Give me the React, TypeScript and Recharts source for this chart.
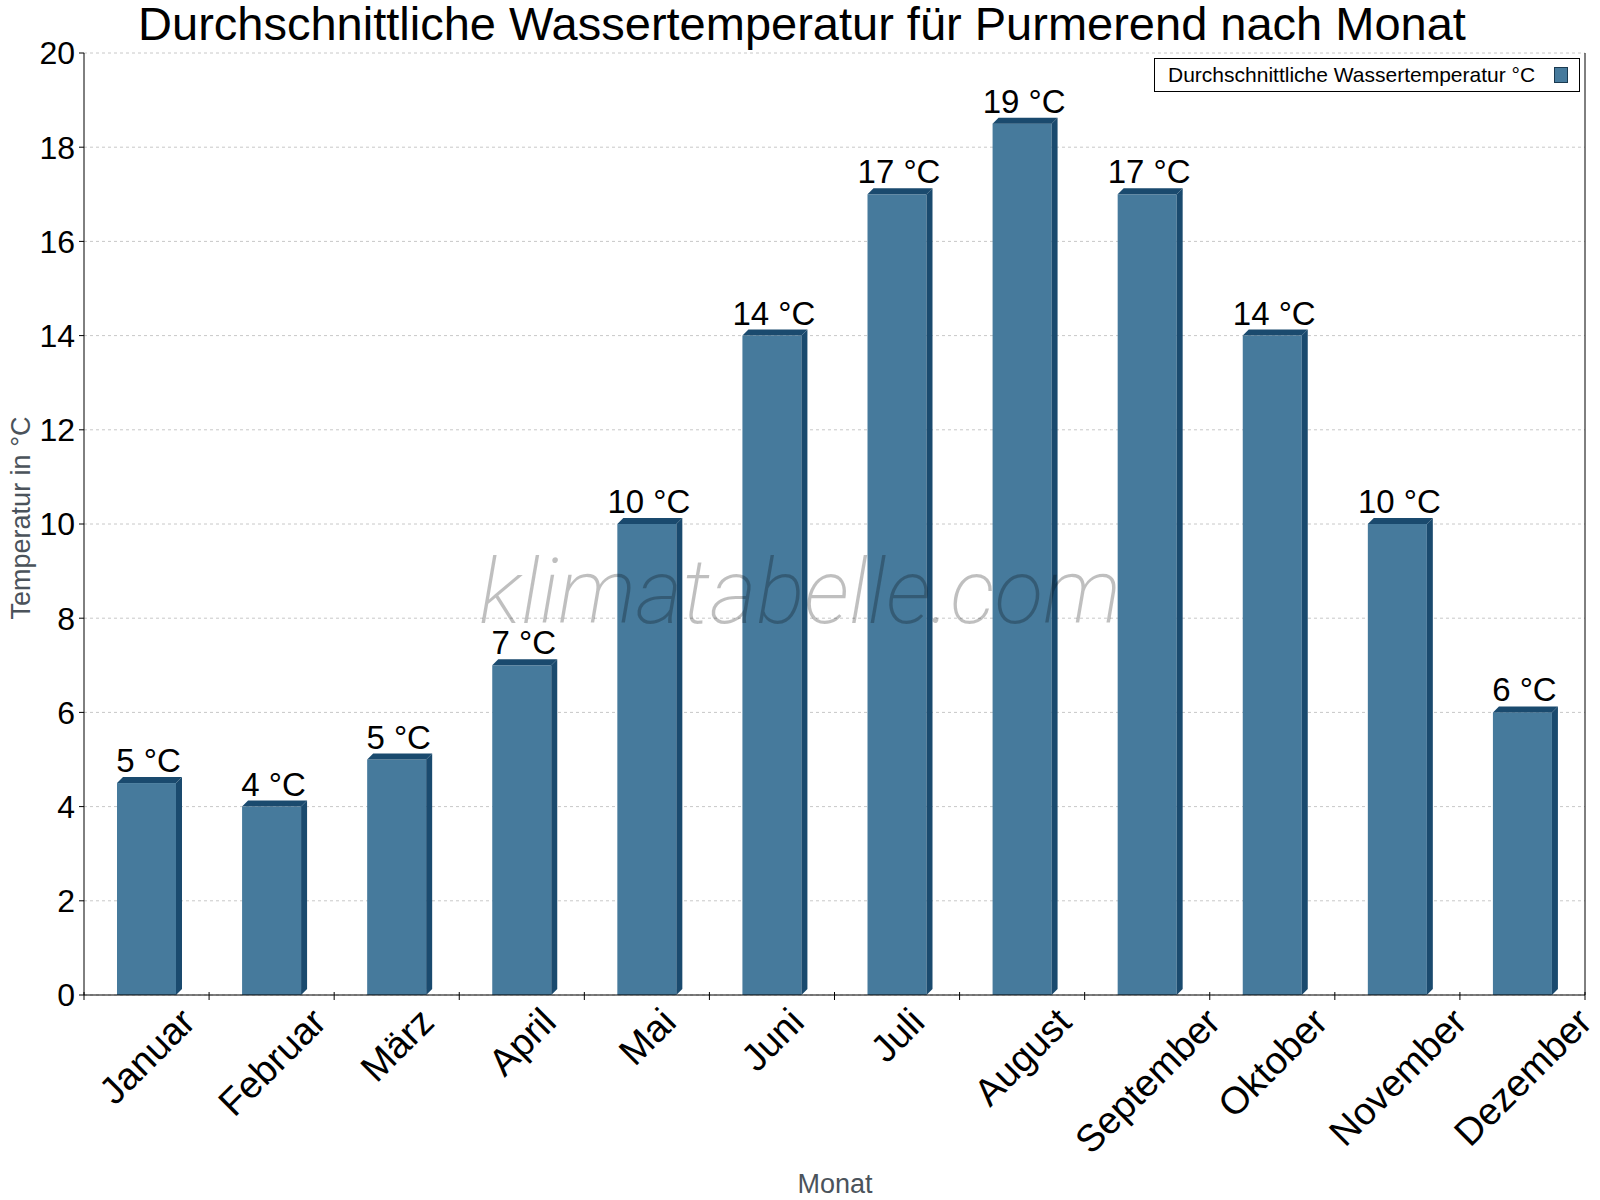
import React from "react";
import {
  BarChart,
  Bar,
  XAxis,
  YAxis,
  CartesianGrid,
  LabelList,
} from "recharts";

const months = [
  "Januar",
  "Februar",
  "März",
  "April",
  "Mai",
  "Juni",
  "Juli",
  "August",
  "September",
  "Oktober",
  "November",
  "Dezember",
];
const waterTemp = [4.5, 4, 5, 7, 10, 14, 17, 18.5, 17, 14, 10, 6];
const yTicks = [0, 2, 4, 6, 8, 10, 12, 14, 16, 18, 20];
const seriesName = "Durchschnittliche Wassertemperatur °C";

const data = months.map((month, i) => ({ month, temp: waterTemp[i] }));

const FONT = "'Liberation Sans', Arial, Helvetica, sans-serif";
const FRONT = "#467a9c";
const SIDE = "#1a4a6e";
const W = 1600;
const H = 1200;
const PLOT_LEFT = 84;
const PLOT_RIGHT = 1585;
const PLOT_W = PLOT_RIGHT - PLOT_LEFT;
const X_FS = 38;

let ctx: CanvasRenderingContext2D | null = null;
function textWidth(s: string, size: number) {
  if (!ctx) ctx = document.createElement("canvas").getContext("2d");
  if (!ctx) return s.length * size * 0.55;
  ctx.font = `${size}px 'Liberation Sans', Arial, sans-serif`;
  return ctx.measureText(s).width;
}

// bar with a little 3d top and right side
const Bar3D = (props: any) => {
  const { x, y, width, height } = props;
  if (height <= 0) return null;
  const d = 6;
  return (
    <g>
      <rect x={x} y={y} width={width} height={height} fill={FRONT} />
      <polygon
        points={`${x},${y} ${x + d},${y - d} ${x + width + d},${y - d} ${x + width},${y}`}
        fill={SIDE}
      />
      <polygon
        points={`${x + width},${y} ${x + width + d},${y - d} ${x + width + d},${y + height - d} ${x + width},${y + height}`}
        fill={SIDE}
      />
    </g>
  );
};

const MonthTick = (props: any) => {
  const { x, y, payload, index } = props;
  const bw = PLOT_W / months.length;
  const L = textWidth(payload.value, X_FS);
  const mx = x + 0.253 * X_FS;
  const my = y + 10 + 0.707 * (L / 2 + 0.716 * X_FS);
  return (
    <g>
      <line x1={x - bw / 2} x2={x - bw / 2} y1={y - 3} y2={y + 5} stroke="#000" />
      {index === months.length - 1 && (
        <line x1={x + bw / 2} x2={x + bw / 2} y1={y - 3} y2={y + 5} stroke="#000" />
      )}
      <text
        x={mx}
        y={my}
        textAnchor="middle"
        transform={`rotate(-45, ${mx}, ${my})`}
        fontSize={X_FS}
        fontFamily={FONT}
        fill="#000"
      >
        {payload.value}
      </text>
    </g>
  );
};

const ValueLabel = (props: any) => {
  const { x, y, width, value } = props;
  return (
    <text
      x={x + width / 2 + 2}
      y={y - 11}
      textAnchor="middle"
      fontSize={33}
      fontFamily={FONT}
      fill="#000"
    >
      {`${Math.round(value)} °C`}
    </text>
  );
};

const LegendBox = () => (
  <div
    style={{
      position: "absolute",
      left: 1154,
      top: 58,
      boxSizing: "border-box",
      width: 426,
      height: 34,
      border: "1px solid #000",
      background: "#fff",
      display: "flex",
      alignItems: "center",
      paddingLeft: 13,
      fontFamily: FONT,
      fontSize: 21,
      color: "#000",
    }}
  >
    <span style={{ flex: 1 }}>{seriesName}</span>
    <span
      style={{
        boxSizing: "border-box",
        width: 14,
        height: 16,
        background: FRONT,
        border: "1px solid #1a3a50",
        marginRight: 11,
      }}
    />
  </div>
);

export default function App() {
  return (
    <div style={{ position: "absolute", left: 0, top: 0, width: W, height: H, background: "#fff" }}>
      <BarChart
        width={W}
        height={H}
        data={data}
        margin={{ top: 53, right: 14, left: 0, bottom: 0 }}
      >
        <CartesianGrid
          yAxisId="left"
          vertical={false}
          stroke="#c8c8c8"
          strokeDasharray="3 3"
        />
        <XAxis
          dataKey="month"
          height={205}
          interval={0}
          tickLine={false}
          tickSize={0}
          tickMargin={0}
          axisLine={{ stroke: "#000" }}
          tick={<MonthTick />}
        />
        <YAxis
          yAxisId="left"
          width={84}
          domain={[0, 20]}
          ticks={yTicks}
          interval={0}
          tickSize={5}
          tickMargin={4}
          axisLine={{ stroke: "#000" }}
          tickLine={{ stroke: "#000" }}
          tick={{ fontSize: 32, fill: "#000", fontFamily: FONT }}
        />
        <YAxis
          yAxisId="right"
          orientation="right"
          width={1}
          domain={[0, 20]}
          tick={false}
          tickLine={false}
          axisLine={{ stroke: "#000" }}
        />
        <Bar
          yAxisId="left"
          dataKey="temp"
          name={seriesName}
          barSize={59}
          fill={FRONT}
          shape={<Bar3D />}
          isAnimationActive={false}
        >
          <LabelList dataKey="temp" content={<ValueLabel />} />
        </Bar>
        <text
          x={802}
          y={40}
          textAnchor="middle"
          fontFamily={FONT}
          fontSize={47}
          fill="#000"
        >
          Durchschnittliche Wassertemperatur für Purmerend nach Monat
        </text>
        <text
          x={21}
          y={518}
          textAnchor="middle"
          dominantBaseline="central"
          transform="rotate(-90, 21, 518)"
          fontFamily={FONT}
          fontSize={27}
          fill="#4b535b"
        >
          Temperatur in °C
        </text>
        <text
          x={835}
          y={1193}
          textAnchor="middle"
          fontFamily={FONT}
          fontSize={27}
          fill="#4b535b"
        >
          Monat
        </text>
      </BarChart>
      <LegendBox />
      <div
        style={{
          position: "absolute",
          left: 0,
          width: W,
          top: 538,
          textAlign: "center",
          fontFamily: "Roboto, sans-serif",
          fontWeight: 200,
          fontStyle: "italic",
          fontSize: 90,
          lineHeight: "110px",
          color: "rgba(0,0,0,0.25)",
          pointerEvents: "none",
        }}
      >
        klimatabelle.com
      </div>
    </div>
  );
}
